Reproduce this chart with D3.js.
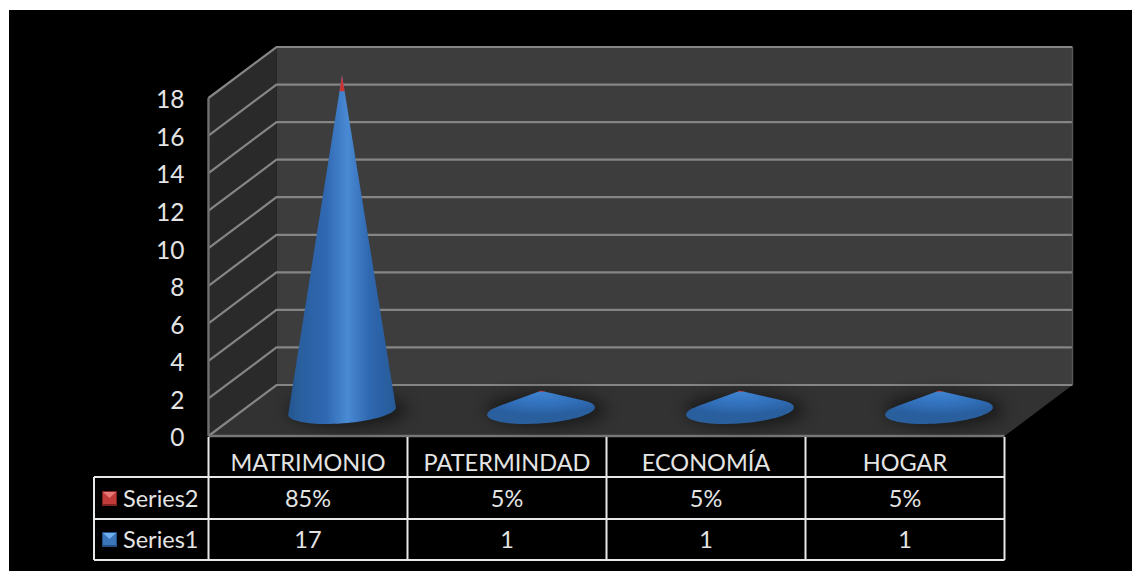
<!DOCTYPE html>
<html><head><meta charset="utf-8">
<script src="https://cdn.jsdelivr.net/npm/d3@7"></script>
<style>html,body{margin:0;padding:0;background:#fff;overflow:hidden}svg{display:block}text{font-family:Lato,sans-serif;fill:#e4e4e4}</style>
</head><body><svg id="c" width="1132" height="571"></svg>
<script>
const categories = ["MATRIMONIO","PATERMINDAD","ECONOMÍA","HOGAR"];
const series1 = [17,1,1,1];
const series2 = [0.85,0.05,0.05,0.05];
const series2Labels = ["85%","5%","5%","5%"];
const series1Labels = ["17","1","1","1"];
const rowNames = ["Series2","Series1"];
const yTicks = [0,2,4,6,8,10,12,14,16,18];

const svg = d3.select("#c");
const defs = svg.append("defs");
const W=1132,H=571;
svg.append("rect").attr("x",9).attr("y",10).attr("width",W-9).attr("height",H-10).attr("fill","#000");

const x = d3.scaleBand().domain(categories).range([208.5,1004.5]);
const y = d3.scaleLinear().domain([0,18]).range([436,98]);
const dx=68, dy=-51;
const xL=x.range()[0], xR=x.range()[1], y0=y(0), yT=y(18);

function blur(id,s){defs.append("filter").attr("id",id).attr("x","-30%").attr("y","-60%").attr("width","160%").attr("height","220%")
  .append("feGaussianBlur").attr("stdDeviation",s);}
blur("soft",0.6); blur("shadow",8); blur("tiny",0.4);

function lin(id,stops,attrs){const g=defs.append("linearGradient").attr("id",id);
  Object.entries(attrs).forEach(([k,v])=>g.attr(k,v));
  stops.forEach(s=>g.append("stop").attr("offset",s[0]).attr("stop-color",s[1]));}
lin("blueTall",[[0,"#26568f"],[0.12,"#2a5f9f"],[0.35,"#3068b2"],[0.55,"#4a8ad4"],[0.75,"#2f68b0"],[1,"#275a98"]],{x1:0,x2:1,y1:0,y2:0});
const rg=defs.append("radialGradient").attr("id","blueShort").attr("gradientUnits","objectBoundingBox").attr("cx",0.5).attr("cy",0.05).attr("r",0.7);
[[0,"#3f82cf"],[0.55,"#3170bb"],[1,"#2a5e9e"]].forEach(s=>rg.append("stop").attr("offset",s[0]).attr("stop-color",s[1]));

const gLines = svg.append("g").attr("filter","url(#soft)");
// walls and floor
const poly=p=>"M"+p.map(d=>d.join(",")).join("L")+"Z";
gLines.append("path").attr("d",poly([[xL+dx,yT+dy],[xR+dx,yT+dy],[xR+dx,y0+dy],[xL+dx,y0+dy]])).attr("fill","#3e3e3e");
gLines.append("path").attr("d",poly([[xL,yT],[xL+dx,yT+dy],[xL+dx,y0+dy],[xL,y0]])).attr("fill","#2a2a2a");
gLines.append("path").attr("d",poly([[xL,y0],[xR,y0],[xR+dx,y0+dy],[xL+dx,y0+dy]])).attr("fill","#323232");
// gridlines
const grid=gLines.append("g");
yTicks.forEach(t=>{
  grid.append("path").attr("d",`M${xL},${y(t)}L${xL+dx},${y(t)+dy}L${xR+dx},${y(t)+dy}`)
    .attr("fill","none").attr("stroke","#858585").attr("stroke-width",2.2);
});
gLines.append("path").attr("d",`M${xL},${y0}V${yT}`).attr("stroke","#6f6f6f").attr("stroke-width",2.4).attr("fill","none");
gLines.append("path").attr("d",`M${xL},${y0}H${xR}`).attr("stroke","#777").attr("stroke-width",2.6).attr("fill","none");
gLines.append("path").attr("d",`M${xR+dx},${yT+dy}V${y0+dy}`).attr("stroke","#585858").attr("stroke-width",1.4).attr("fill","none");

// cones
const rx=54, ry=12.4, tilt=-4.2*Math.PI/180;
const gCones=svg.append("g").attr("filter","url(#tiny)");
categories.forEach((c,i)=>{
  const cx=x(c)+x.bandwidth()/2+dx/2, cy=y0+dy/2+0.5;
  const total=series1[i]+series2[i];
  const apex=[cx,y(total)+dy/2];
  const split=y(series1[i])+dy/2;
  const rim=d3.range(0,72).map(k=>{const a=k/72*2*Math.PI,px=rx*Math.cos(a),py=ry*Math.sin(a);
    return [cx+px*Math.cos(tilt)-py*Math.sin(tilt),cy+px*Math.sin(tilt)+py*Math.cos(tilt)];});
  const hull=d3.polygonHull(rim.concat([apex]));
  const d="M"+hull.map(p=>p.join(",")).join("L")+"Z";
  gCones.append("ellipse").attr("cx",cx+5).attr("cy",cy-1).attr("rx",rx+6).attr("ry",ry+4)
    .attr("fill","#000").attr("opacity",0.5).attr("filter","url(#shadow)");
  const tall=series1[i]>3;
  gCones.append("path").attr("d",d).attr("fill",tall?"url(#blueTall)":"url(#blueShort)");
  const id="tip"+i;
  defs.append("clipPath").attr("id",id).append("rect").attr("x",cx-rx-5).attr("y",apex[1]-2).attr("width",2*rx+10).attr("height",Math.max(split-apex[1]+2,0));
  gCones.append("path").attr("d",d).attr("fill","#c93535").attr("clip-path",`url(#${id})`);
});

// y axis
const axis=d3.axisLeft(y).tickValues(yTicks).tickSize(0).tickPadding(0);
const gA=svg.append("g").attr("transform","translate(184.5,2)").call(axis);
gA.select(".domain").remove();
gA.selectAll("text").style("font-family","Lato,sans-serif").style("font-size","24.5px").attr("fill","#e4e4e4");

// data table
const rows=[437,477,519,560];
const tbl=svg.append("g").attr("filter","url(#tiny)");
const st=(s)=>s.attr("stroke","#e8e8e8").attr("stroke-width",2).attr("fill","none");
st(tbl.append("path").attr("d",`M${xL},${rows[0]}V${rows[3]}`));
categories.forEach((c,i)=>st(tbl.append("path").attr("d",`M${x(c)+x.bandwidth()},${rows[0]}V${rows[3]}`)));
st(tbl.append("path").attr("d",`M94,${rows[1]}V${rows[3]}`));
rows.slice(1).forEach(r=>st(tbl.append("path").attr("d",`M94,${r}H${xR}`)));

const tg=svg.append("g");
const cell=(t,xx,yy,anchor)=>tg.append("text").attr("x",xx).attr("y",yy).attr("text-anchor",anchor||"middle").style("font-size","23.5px").text(t);
categories.forEach((c,i)=>{
  const m=x(c)+x.bandwidth()/2;
  cell(c,m,471);
  cell(series2Labels[i],m,506.5);
  cell(series1Labels[i],m,547.5);
});
rowNames.forEach((n,i)=>{
  const yy=[506.5,547.5][i];
  cell(n,123,yy,"start");
  const top=[491,532][i], col=i==0?["#7e2222","#c23a3a","#e87878"]:["#234f86","#3a74ba","#6fb0ee"];
  const s=tbl.append("g");
  s.append("rect").attr("x",102).attr("y",top).attr("width",15).attr("height",15).attr("fill",col[0]);
  s.append("rect").attr("x",103).attr("y",top+1).attr("width",13).attr("height",12).attr("fill",col[1]);
  s.append("path").attr("d",`M103,${top+1}H116L109.5,${top+7}Z`).attr("fill",col[2]);
});
</script></body></html>
